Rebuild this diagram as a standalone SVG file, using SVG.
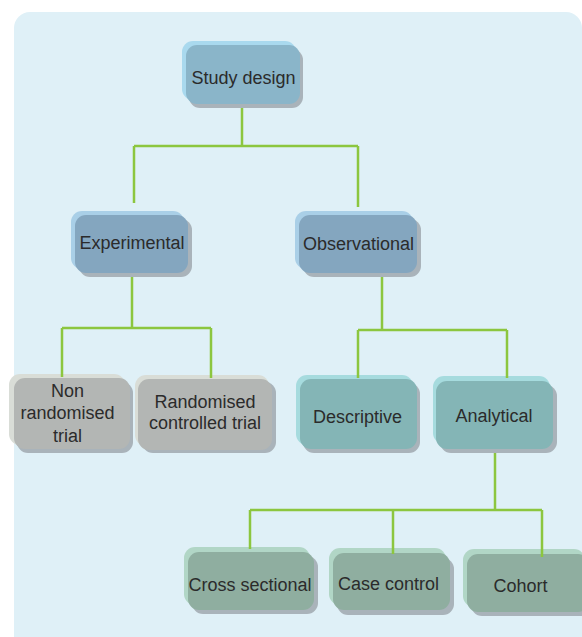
<svg xmlns="http://www.w3.org/2000/svg" width="582" height="637" viewBox="0 0 582 637">
<style>
text{font-family:"Liberation Sans",Arial,sans-serif;font-size:18px;fill:#2b2b2b;text-anchor:middle}
.sh{fill:#a9b3ba}
.conn{fill:none;stroke:#8cc63f;stroke-width:2.5}
.l1 .lt{fill:#a9d9ee}.l1 .mn{fill:#8ab5c9}
.l2 .lt{fill:#a9cfe7}.l2 .mn{fill:#84a6bf}
.gr .lt{fill:#d9ddd7}.gr .mn{fill:#b3b6b4}
.tl .lt{fill:#a6dbde}.tl .mn{fill:#84b5b6}
.gn .lt{fill:#b1d6c6}.gn .mn{fill:#8faea0}
</style>
<rect x="0" y="0" width="582" height="637" fill="#ffffff"/>
<rect x="14" y="12" width="568" height="645" rx="16" fill="#dff0f7"/>

<g id="study-design" class="l1">
<rect class="lt" x="182" y="41" width="114" height="59" rx="11"/>
<rect class="sh" x="189" y="49" width="114" height="59" rx="11"/>
<rect class="mn" x="186" y="45" width="114" height="59" rx="11"/>
<text x="243.5" y="84">Study design</text>
</g>
<g id="experimental" class="l2">
<rect class="lt" x="71" y="211" width="113" height="58" rx="11"/>
<rect class="sh" x="79" y="219" width="113" height="58" rx="11"/>
<rect class="mn" x="75" y="215" width="113" height="58" rx="11"/>
<text x="132" y="249">Experimental</text>
</g>
<g id="observational" class="l2">
<rect class="lt" x="295" y="211" width="118" height="58" rx="11"/>
<rect class="sh" x="303" y="219" width="118" height="58" rx="11"/>
<rect class="mn" x="299" y="215" width="118" height="58" rx="11"/>
<text x="358.5" y="250">Observational</text>
</g>
<g id="non-randomised" class="gr">
<rect class="lt" x="9" y="374" width="116" height="71" rx="11"/>
<rect class="sh" x="17" y="382" width="116" height="71" rx="11"/>
<rect class="mn" x="14" y="378" width="116" height="71" rx="11"/>
<text x="67.5" y="397">Non</text>
<text x="67.5" y="419">randomised</text>
<text x="67.5" y="442">trial</text>
</g>
<g id="rct" class="gr">
<rect class="lt" x="135" y="375" width="134" height="71" rx="11"/>
<rect class="sh" x="142" y="382" width="134" height="71" rx="11"/>
<rect class="mn" x="138" y="379" width="134" height="71" rx="11"/>
<text x="205" y="408">Randomised</text>
<text x="205" y="429">controlled trial</text>
</g>
<g id="descriptive" class="tl">
<rect class="lt" x="296" y="375" width="117" height="70" rx="11"/>
<rect class="sh" x="303" y="383" width="117" height="70" rx="11"/>
<rect class="mn" x="300" y="379" width="117" height="70" rx="11"/>
<text x="357.5" y="423">Descriptive</text>
</g>
<g id="analytical" class="tl">
<rect class="lt" x="433" y="376" width="117" height="68" rx="11"/>
<rect class="sh" x="440" y="385" width="117" height="68" rx="11"/>
<rect class="mn" x="436" y="381" width="117" height="68" rx="11"/>
<text x="494" y="422">Analytical</text>
</g>
<g id="cross-sectional" class="gn">
<rect class="lt" x="184" y="547" width="126" height="58" rx="11"/>
<rect class="sh" x="192" y="556" width="126" height="58" rx="11"/>
<rect class="mn" x="188" y="552" width="126" height="58" rx="11"/>
<text x="250" y="591">Cross sectional</text>
</g>
<g id="case-control" class="gn">
<rect class="lt" x="329" y="548" width="117" height="57" rx="11"/>
<rect class="sh" x="337" y="558" width="117" height="57" rx="11"/>
<rect class="mn" x="333" y="553" width="117" height="57" rx="11"/>
<text x="388.5" y="590">Case control</text>
</g>
<g id="cohort" class="gn">
<rect class="lt" x="463" y="549" width="122" height="58" rx="11"/>
<rect class="sh" x="471" y="558" width="122" height="58" rx="11"/>
<rect class="mn" x="467" y="554" width="122" height="58" rx="11"/>
<text x="520.5" y="592">Cohort</text>
</g>

<g id="connectors" class="conn">
<path d="M242,108V146M134,146H358M134,146V203M358,146V207"/>
<path d="M132,277V328M62,328H211M62,328V377M211,328V378"/>
<path d="M382,277V330M358,330H507M358,330V378M507,330V378"/>
<path d="M495,453V510M250,510H542M250,510V549M393,510V554M542,510V557"/>
</g>
</svg>
